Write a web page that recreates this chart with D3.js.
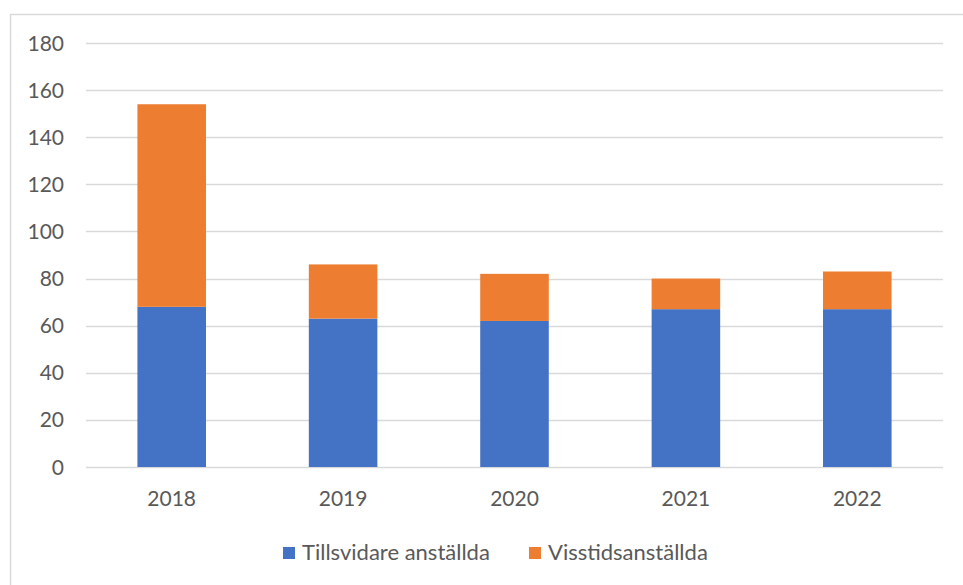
<!DOCTYPE html>
<html>
<head>
<meta charset="utf-8">
<script src="https://cdn.jsdelivr.net/npm/d3@7"></script>
<style>
    body { margin: 0; background: #fff; }
    text { font-family: Lato, "Noto Sans", sans-serif; fill: #595959; }
</style>
</head>
<body>
<script>
// data
const years = ['2018', '2019', '2020', '2021', '2022']
const tillsvidare = [68, 63, 62, 67, 67]
const visstid = [86, 23, 20, 13, 16]
const seriesNames = ['Tillsvidare anställda', 'Visstidsanställda']
const seriesColors = ['#4472c4', '#ed7d31']
const yTicks = [0, 20, 40, 60, 80, 100, 120, 140, 160, 180]

const width = 963
const height = 585
const plot = {left: 86, right: 943, top: 43, bottom: 467}
const fontSize = 21

const svg = d3.select('body').append('svg')
    .attr('width', width)
    .attr('height', height)

// chart border (only top and left show in the crop)
svg.append('path')
    .attr('d', `M10.5,${height} V14.5 H${width}`)
    .attr('fill', 'none')
    .attr('stroke', '#d9d9d9')
    .attr('stroke-width', 1.5)

// scales
const x = d3.scaleBand()
    .domain(years)
    .range([plot.left, plot.right])
    .paddingInner(0.6)
    .paddingOuter(0.3)

const y = d3.scaleLinear()
    .domain([0, 180])
    .range([plot.bottom, plot.top])

// gridlines
svg.append('g')
    .selectAll('line')
    .data(yTicks)
    .join('line')
    .attr('x1', plot.left)
    .attr('x2', plot.right)
    .attr('y1', d => Math.round(y(d)) + 0.5)
    .attr('y2', d => Math.round(y(d)) + 0.5)
    .attr('stroke', '#d9d9d9')
    .attr('stroke-width', 1.5)

// y labels
svg.append('g')
    .selectAll('text')
    .data(yTicks)
    .join('text')
    .attr('x', 64)
    .attr('y', d => y(d))
    .attr('dy', '0.36em')
    .attr('text-anchor', 'end')
    .attr('font-size', fontSize)
    .text(d => d)

// stacked bars
const table = years.map((yr, i) => ({year: yr, a: tillsvidare[i], b: visstid[i]}))
const stacked = d3.stack().keys(['a', 'b'])(table)

svg.append('g')
    .selectAll('g')
    .data(stacked)
    .join('g')
    .attr('fill', (d, i) => seriesColors[i])
    .selectAll('rect')
    .data(d => d)
    .join('rect')
    .attr('x', d => x(d.data.year))
    .attr('width', x.bandwidth())
    .attr('y', d => y(d[1]))
    .attr('height', d => y(d[0]) - y(d[1]))

// x labels
svg.append('g')
    .selectAll('text')
    .data(years)
    .join('text')
    .attr('x', d => x(d) + x.bandwidth() / 2)
    .attr('y', 506)
    .attr('text-anchor', 'middle')
    .attr('font-size', fontSize)
    .text(d => d)

// legend
const legendX = [283, 529]
const legend = svg.append('g')
    .selectAll('g')
    .data(seriesNames)
    .join('g')
    .attr('transform', (d, i) => `translate(${legendX[i]},547)`)

legend.append('rect')
    .attr('width', 12)
    .attr('height', 12)
    .attr('fill', (d, i) => seriesColors[i])

legend.append('text')
    .attr('x', 19)
    .attr('y', 13)
    .attr('font-size', 22)
    .text(d => d)
</script>
</body>
</html>
